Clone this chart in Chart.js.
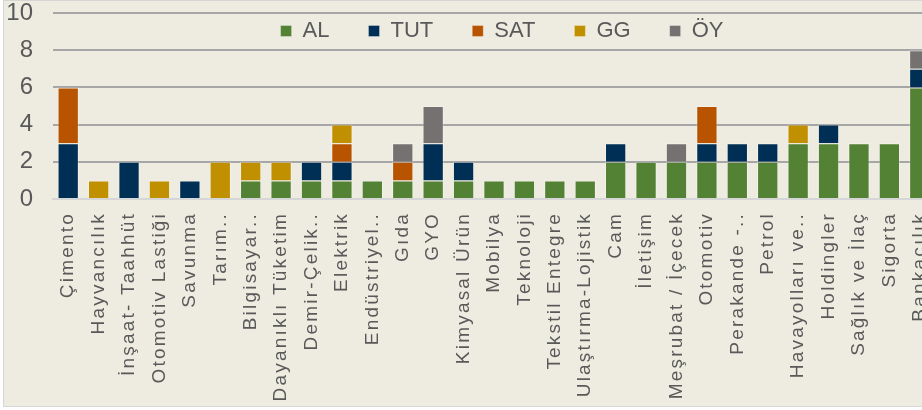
<!DOCTYPE html>
<html>
<head>
<meta charset="utf-8">
<script src="https://cdn.jsdelivr.net/npm/chart.js@4"></script>
<style>
  html, body { margin: 0; padding: 0; background: #ffffff; overflow: hidden; width: 922px; height: 410px; }
  #bg { position: absolute; left: 3px; top: 0; width: 1000px; height: 407px; box-sizing: border-box;
        border: 1px solid #D6D6D6; background: #EEECE1; }
  #chart { position: absolute; left: 0; top: 0; }
</style>
</head>
<body>
<div id="bg"></div>
<canvas id="chart" width="940" height="410"></canvas>
<script>
const sectors = [
  'Çimento', 'Hayvancılık', 'İnşaat- Taahhüt', 'Otomotiv Lastiği', 'Savunma', 'Tarım..',
  'Bilgisayar..', 'Dayanıklı Tüketim', 'Demir-Çelik..', 'Elektrik', 'Endüstriyel..', 'Gıda',
  'GYO', 'Kimyasal Ürün', 'Mobilya', 'Teknoloji', 'Tekstil Entegre', 'Ulaştırma-Lojistik',
  'Cam', 'İletişim', 'Meşrubat / İçecek', 'Otomotiv', 'Perakande -..', 'Petrol',
  'Havayolları ve..', 'Holdingler', 'Sağlık ve İlaç', 'Sigorta', 'Bankacılık'
];

const al  = [0, 0, 0, 0, 0, 0, 1, 1, 1, 1, 1, 1, 1, 1, 1, 1, 1, 1, 2, 2, 2, 2, 2, 2, 3, 3, 3, 3, 6];
const tut = [3, 0, 2, 0, 1, 0, 0, 0, 1, 1, 0, 0, 2, 1, 0, 0, 0, 0, 1, 0, 0, 1, 1, 1, 0, 1, 0, 0, 1];
const sat = [3, 0, 0, 0, 0, 0, 0, 0, 0, 1, 0, 1, 0, 0, 0, 0, 0, 0, 0, 0, 0, 2, 0, 0, 0, 0, 0, 0, 0];
const gg  = [0, 1, 0, 1, 0, 2, 1, 1, 0, 1, 0, 0, 0, 0, 0, 0, 0, 0, 0, 0, 0, 0, 0, 0, 1, 0, 0, 0, 0];
const oy  = [0, 0, 0, 0, 0, 0, 0, 0, 0, 0, 0, 1, 2, 0, 0, 0, 0, 0, 0, 0, 1, 0, 0, 0, 0, 0, 0, 0, 1];

const seriesNames = ['AL', 'TUT', 'SAT', 'GG', 'ÖY'];
const seriesColors = ['#548235', '#002F56', '#B85400', '#C09000', '#767171'];
const yTicks = [0, 2, 4, 6, 8, 10];

// x labels in the original are spread out, so draw them with some letter spacing
class SpacedCategoryScale extends Chart.CategoryScale {
  static id = 'spacedCategory';
  static defaults = Chart.CategoryScale.defaults;
  update(maxWidth, maxHeight, margins) {
    this.ctx.save();
    this.ctx.letterSpacing = '2.2px';
    const res = super.update(maxWidth, maxHeight, margins);
    this.ctx.restore();
    return res;
  }
  drawLabels(chartArea) {
    this.ctx.save();
    this.ctx.letterSpacing = '2.2px';
    super.drawLabels(chartArea);
    this.ctx.restore();
  }
}
Chart.register(SpacedCategoryScale);

// legend takes no room of its own and is moved inside the plot, under the top gridline
const legendInside = {
  id: 'legendInside',
  beforeLayout(chart) {
    const lg = chart.legend;
    if (!lg || lg._zeroHeight) return;
    const origFit = lg.fit;
    lg.fit = function () {
      origFit.call(this);
      this.height = 0;
    };
    lg._zeroHeight = true;
  },
  afterLayout(chart) {
    const lg = chart.legend;
    if (!lg) return;
    const area = chart.chartArea;
    lg.top = area.top - 32;
    lg.bottom = area.top + 40;
    lg.left = area.left + 8;
    lg.right = area.right + 8;
  }
};

const series = [al, tut, sat, gg, oy];
const datasets = series.map((vals, i) => ({
  label: seriesNames[i],
  data: vals.map(v => v === 0 ? null : v),
  backgroundColor: seriesColors[i],
  borderColor: 'rgba(255,255,255,0.3)',
  borderWidth: 1,
  barPercentage: 0.7,
  categoryPercentage: 1.0
}));

new Chart(document.getElementById('chart'), {
  type: 'bar',
  data: { labels: sectors, datasets },
  options: {
    responsive: false,
    animation: false,
    layout: { padding: { top: 13, right: 5, bottom: 0, left: 0 } },
    plugins: {
      tooltip: { enabled: false },
      legend: {
        position: 'top',
        align: 'center',
        labels: {
          boxWidth: 11,
          boxHeight: 11,
          padding: 39,
          color: '#595959',
          font: { family: 'Liberation Sans', size: 22 }
        }
      }
    },
    scales: {
      x: {
        type: 'spacedCategory',
        stacked: true,
        grid: { display: false, drawTicks: false },
        border: { display: true, color: '#D6D6D6', width: 2 },
        ticks: {
          minRotation: 90,
          maxRotation: 90,
          autoSkip: false,
          padding: 13,
          color: '#595959',
          font: { family: 'Liberation Sans', size: 19 }
        },
        afterFit(scale) {
          scale.height = 211;
          scale.paddingLeft = 0;
          scale.paddingRight = 0;
        }
      },
      y: {
        stacked: true,
        min: 0,
        max: 10,
        afterBuildTicks(scale) {
          scale.ticks = yTicks.map(v => ({ value: v }));
        },
        grid: {
          drawTicks: false,
          lineWidth: 2,
          color: ctx => ctx.tick && ctx.tick.value === 0 ? '#D6D6D6' : '#A6A6A6'
        },
        border: { display: false },
        ticks: {
          padding: 20,
          color: '#595959',
          font: { family: 'Liberation Sans', size: 24 }
        },
        afterFit(scale) {
          scale.width = 53;
          scale.paddingTop = 0;
          scale.paddingBottom = 0;
        }
      }
    }
  },
  plugins: [legendInside]
});
</script>
</body>
</html>
